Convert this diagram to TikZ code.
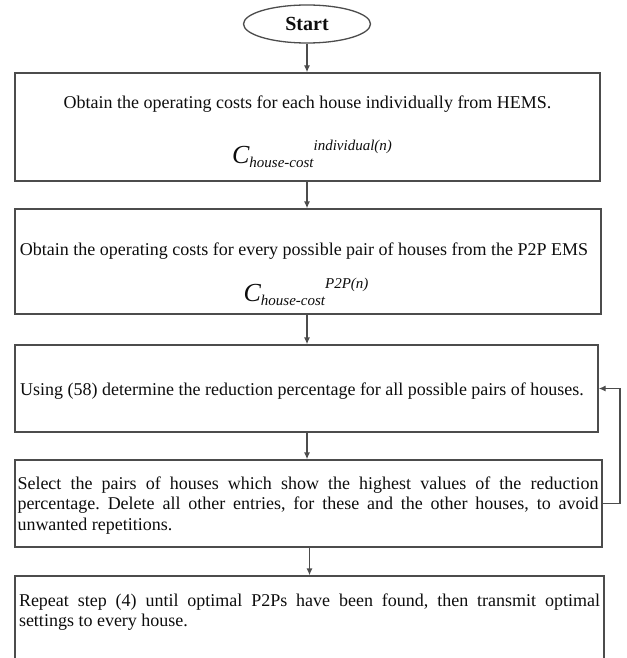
\documentclass[tikz,border=0pt]{standalone}
\usepackage{fontspec}
\setmainfont{Liberation Serif}
\usetikzlibrary{arrows.meta,shapes.geometric}
\definecolor{linegray}{gray}{0.3}
\definecolor{inkblack}{gray}{0.05}
\frenchspacing

% large italic symbol with a subscript and a superscript set after it
\newcommand{\costsym}[1]{%
  {\fontsize{26}{26}\selectfont\itshape C}%
  \raisebox{-4pt}{\fontsize{15}{15}\selectfont\itshape house-cost}%
  \raisebox{13pt}{\fontsize{15}{15}\selectfont\itshape #1}}

\begin{document}
\begin{tikzpicture}[x=1pt,y=-1pt,
  frame/.style={draw=linegray, line width=1.3pt, rectangle, inner sep=0pt},
  flow/.style={draw=linegray, line width=1.3pt, -{Latex[length=7pt,width=6pt]}},
  body/.style={text=inkblack, font=\fontsize{18}{20.5}\selectfont, inner sep=0pt},
  para/.style={body, text width=581pt, align=justify},
]
\useasboundingbox (0,0) rectangle (626,658);
\clip (0,0) rectangle (626,658);

% start terminal
\node[draw=linegray, line width=1.3pt, ellipse, minimum width=127pt,
      minimum height=38pt, inner sep=0pt, text=inkblack,
      font=\fontsize{20}{24}\selectfont\bfseries] (start) at (307,24) {Start};

% process boxes
\node[frame, minimum width=585pt, minimum height=108pt] (b1) at (307.5,127) {};
\node[frame, minimum width=586pt, minimum height=105pt] (b2) at (308,261.5) {};
\node[frame, minimum width=583pt, minimum height=87pt]  (b3) at (306.5,388.5) {};
\node[frame, minimum width=587pt, minimum height=87pt]  (b4) at (308.5,503.5) {};
\node[frame, minimum width=589pt, minimum height=124pt] (b5) at (309.5,638) {};

% box texts
\node[body, anchor=base] (t1) at (307.5,109)
  {Obtain the operating costs for each house individually from HEMS.};
\node[body, anchor=base] (f1) at (312,163) {\costsym{individual(n)}};

\node[body, anchor=base] (t2) at (304,255)
  {Obtain the operating costs for every possible pair of houses from the P2P EMS};
\node[body, anchor=base] (f2) at (306,301) {\costsym{P2P(n)}};

\node[body, anchor=base] (t3) at (302,395)
  {Using (58) determine the reduction percentage for all possible pairs of houses.};

\node[para, anchor=base] (t4) at (308,489)
  {Select the pairs of houses which show the highest values of the reduction\linebreak
   percentage. Delete all other entries, for these and the other houses, to avoid\linebreak
   unwanted repetitions.};

\node[para, anchor=base] (t5) at (309.5,606)
  {Repeat step (4) until optimal P2Ps have been found, then transmit optimal\linebreak
   settings to every house.};

% connectors
\draw[flow] (start.south) -- (start.south |- b1.north);
\draw[flow] (b1.south -| start.south) -- (start.south |- b2.north);
\draw[flow] (b2.south -| start.south) -- (start.south |- b3.north);
\draw[flow] (b3.south -| start.south) -- (start.south |- b4.north);
\coordinate (mid5) at (309.5,0);
\draw[flow] (b4.south -| mid5) -- (mid5 |- b5.north);

% feedback loop back to the percentage step
\coordinate (loopx) at (620,0);
\draw[flow] (b4.east) -- (b4.east -| loopx) |- (b3.east);
\end{tikzpicture}
\end{document}
